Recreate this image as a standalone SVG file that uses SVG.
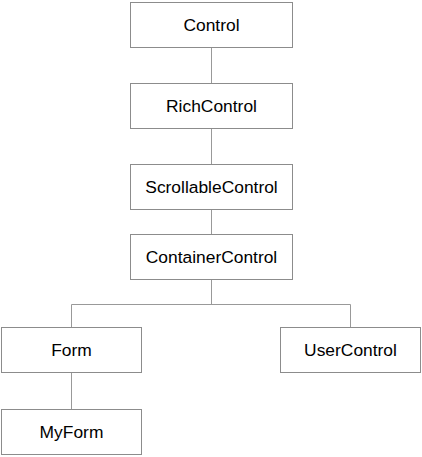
<svg xmlns="http://www.w3.org/2000/svg" width="422" height="457" viewBox="0 0 422 457">
<style>
.box{fill:#fff;stroke:#8c8c8c;stroke-width:1}
.lbl{font-family:"Liberation Sans",Arial,sans-serif;font-size:17.4px;fill:#000;text-anchor:middle;dominant-baseline:central}
.ln{stroke:#999;stroke-width:1;fill:none}
</style>
<rect width="422" height="457" fill="#fff"/>
<g id="connectors">
<line class="ln" x1="211.5" y1="47" x2="211.5" y2="83"/>
<line class="ln" x1="211.5" y1="128" x2="211.5" y2="164"/>
<line class="ln" x1="211.5" y1="209" x2="211.5" y2="234"/>
<polyline class="ln" points="211.5,280 211.5,304.5"/>
<polyline class="ln" points="71.5,327 71.5,304.5 350.5,304.5 350.5,327"/>
<line class="ln" x1="71.5" y1="373" x2="71.5" y2="409"/>
</g>
<g id="Control"><rect class="box" x="130.5" y="2.5" width="162" height="45"/><text class="lbl" x="211.5" y="24.5">Control</text></g>
<g id="RichControl"><rect class="box" x="130.5" y="83.5" width="162" height="45"/><text class="lbl" x="211.5" y="105.5">RichControl</text></g>
<g id="ScrollableControl"><rect class="box" x="130.5" y="164.5" width="162" height="45"/><text class="lbl" x="211.5" y="186.5">ScrollableControl</text></g>
<g id="ContainerControl"><rect class="box" x="130.5" y="234.5" width="162" height="45"/><text class="lbl" x="211.5" y="256.5">ContainerControl</text></g>
<g id="Form"><rect class="box" x="1.5" y="327.5" width="140" height="45"/><text class="lbl" x="71.5" y="349.5">Form</text></g>
<g id="UserControl"><rect class="box" x="280.5" y="327.5" width="140" height="45"/><text class="lbl" x="350.5" y="349.5">UserControl</text></g>
<g id="MyForm"><rect class="box" x="1.5" y="409.5" width="140" height="45"/><text class="lbl" x="71.5" y="431.5">MyForm</text></g>
</svg>
